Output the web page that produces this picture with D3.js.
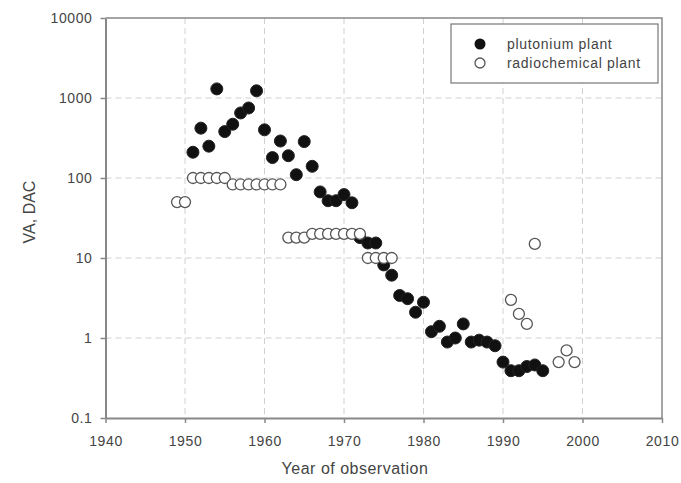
<!DOCTYPE html>
<html>
<head>
<meta charset="utf-8">
<script src="https://cdn.jsdelivr.net/npm/d3@7"></script>
<style>
  body { margin: 0; background: #fff; }
  text { font-family: "Liberation Sans", Arial, sans-serif; fill: #444; }
</style>
</head>
<body>
<div id="chart"></div>
<script>
// data
var plutoniumYears = [1951, 1952, 1953, 1954, 1955, 1956, 1957, 1958, 1959, 1960,
  1961, 1962, 1963, 1964, 1965, 1966, 1967, 1968, 1969, 1970,
  1971, 1972, 1973, 1974, 1975, 1976, 1977, 1978, 1979, 1980,
  1981, 1982, 1983, 1984, 1985, 1986, 1987, 1988, 1989, 1990,
  1991, 1992, 1993, 1994, 1995];
var plutoniumValues = [210, 420, 250, 1300, 380, 470, 650, 750, 1230, 400,
  180, 290, 190, 110, 285, 140, 67, 52, 52, 62,
  49, 18, 15.4, 15.4, 8.2, 6.1, 3.4, 3.1, 2.1, 2.8,
  1.2, 1.4, 0.89, 1.0, 1.5, 0.89, 0.94, 0.89, 0.8, 0.5,
  0.39, 0.39, 0.44, 0.46, 0.39];

var radioYears = [1949, 1950, 1951, 1952, 1953, 1954, 1955, 1956, 1957, 1958,
  1959, 1960, 1961, 1962, 1963, 1964, 1965, 1966, 1967, 1968,
  1969, 1970, 1971, 1972, 1973, 1974, 1975, 1976, 1991, 1992,
  1993, 1994, 1997, 1998, 1999];
var radioValues = [50, 50, 100, 100, 100, 100, 100, 83, 83, 83,
  83, 83, 83, 83, 18, 18, 18, 20, 20, 20,
  20, 20, 20, 20, 10, 10, 10, 10, 3.0, 2.0,
  1.5, 15, 0.5, 0.7, 0.5];

var xTicks = [1940, 1950, 1960, 1970, 1980, 1990, 2000, 2010];
var yTicks = [0.1, 1, 10, 100, 1000, 10000];
var seriesNames = ["plutonium plant", "radiochemical plant"];

var svgWidth = 681;
var svgHeight = 483;

var svg = d3.select("#chart")
  .append("svg")
  .attr("width", svgWidth)
  .attr("height", svgHeight);

var plotLeft = 105.5, plotRight = 662, plotTop = 18, plotBottom = 418;

var xScale = d3.scaleLinear().domain([1940, 2010]).range([plotLeft, plotRight]);
var yScale = d3.scaleLog().domain([0.1, 10000]).range([plotBottom, plotTop]);

// grid lines
svg.append("g")
  .selectAll("line")
  .data(xTicks.slice(1, -1))
  .enter()
  .append("line")
  .attr("x1", d => xScale(d)).attr("x2", d => xScale(d))
  .attr("y1", plotTop).attr("y2", plotBottom)
  .attr("stroke", "#d0d0d0")
  .attr("stroke-dasharray", "6,4");

svg.append("g")
  .selectAll("line")
  .data(yTicks.slice(1, -1))
  .enter()
  .append("line")
  .attr("x1", plotLeft).attr("x2", plotRight)
  .attr("y1", d => yScale(d)).attr("y2", d => yScale(d))
  .attr("stroke", "#d0d0d0")
  .attr("stroke-dasharray", "6,4");

// frame (top & right)
svg.append("path")
  .attr("d", `M${plotLeft},${plotTop}H${plotRight}V${plotBottom}`)
  .attr("fill", "none")
  .attr("stroke", "#888")
  .attr("stroke-width", 1.5);

// axes
var bottomAxis = d3.axisBottom(xScale)
  .tickValues(xTicks)
  .tickFormat(d3.format("d"))
  .tickSize(5)
  .tickSizeOuter(0);

var leftAxis = d3.axisLeft(yScale)
  .tickValues(yTicks)
  .tickFormat(d => d < 1 ? "0.1" : String(d))
  .tickSize(5)
  .tickSizeOuter(0);

var xAxis = svg.append("g")
  .attr("transform", `translate(0, ${plotBottom})`)
  .call(bottomAxis);

var yAxis = svg.append("g")
  .attr("transform", `translate(${plotLeft}, 0)`)
  .call(leftAxis);

[xAxis, yAxis].forEach(function(ax) {
  ax.select(".domain").attr("stroke", "#888").attr("stroke-width", 2);
  ax.selectAll(".tick line").attr("stroke", "#888").attr("stroke-width", 1.5);
  ax.selectAll(".tick text")
    .attr("font-size", "14px")
    .attr("letter-spacing", "0.6px")
    .attr("font-family", "Liberation Sans, Arial, sans-serif")
    .attr("fill", "#444");
});
xAxis.selectAll(".tick text").attr("y", 28).attr("dy", null);
yAxis.selectAll(".tick text").attr("x", -13);

// points
var plutonium = plutoniumYears.map((y, i) => ({ year: y, value: plutoniumValues[i] }));
var radio = radioYears.map((y, i) => ({ year: y, value: radioValues[i] }));

svg.append("g")
  .selectAll("circle")
  .data(plutonium)
  .enter()
  .append("circle")
  .attr("cx", d => xScale(d.year))
  .attr("cy", d => yScale(d.value))
  .attr("r", 6)
  .attr("fill", "#111")
  .attr("stroke", "#222")
  .attr("stroke-width", 1);

svg.append("g")
  .selectAll("circle")
  .data(radio)
  .enter()
  .append("circle")
  .attr("cx", d => xScale(d.year))
  .attr("cy", d => yScale(d.value))
  .attr("r", 5.5)
  .attr("fill", "#fff")
  .attr("stroke", "#555")
  .attr("stroke-width", 1.3);

// axis titles
svg.append("text")
  .attr("x", 355)
  .attr("y", 474)
  .attr("text-anchor", "middle")
  .attr("font-size", "16px")
  .attr("letter-spacing", "0.5px")
  .text("Year of observation");

svg.append("text")
  .attr("transform", "translate(35, 212) rotate(-90)")
  .attr("text-anchor", "middle")
  .attr("font-size", "16px")
  .text("VA, DAC");

// legend
var legend = svg.append("g");
legend.append("rect")
  .attr("x", 451).attr("y", 24)
  .attr("width", 207).attr("height", 59)
  .attr("fill", "#fff")
  .attr("stroke", "#777")
  .attr("stroke-width", 1.2);

legend.append("circle")
  .attr("cx", 480).attr("cy", 44).attr("r", 5.5)
  .attr("fill", "#111");
legend.append("circle")
  .attr("cx", 480).attr("cy", 63).attr("r", 5)
  .attr("fill", "#fff").attr("stroke", "#555").attr("stroke-width", 1.3);

legend.selectAll("text")
  .data(seriesNames)
  .enter()
  .append("text")
  .attr("x", 507)
  .attr("y", (d, i) => 49 + i * 19)
  .attr("font-size", "14px")
  .attr("letter-spacing", "0.7px")
  .text(d => d);
</script>
</body>
</html>
